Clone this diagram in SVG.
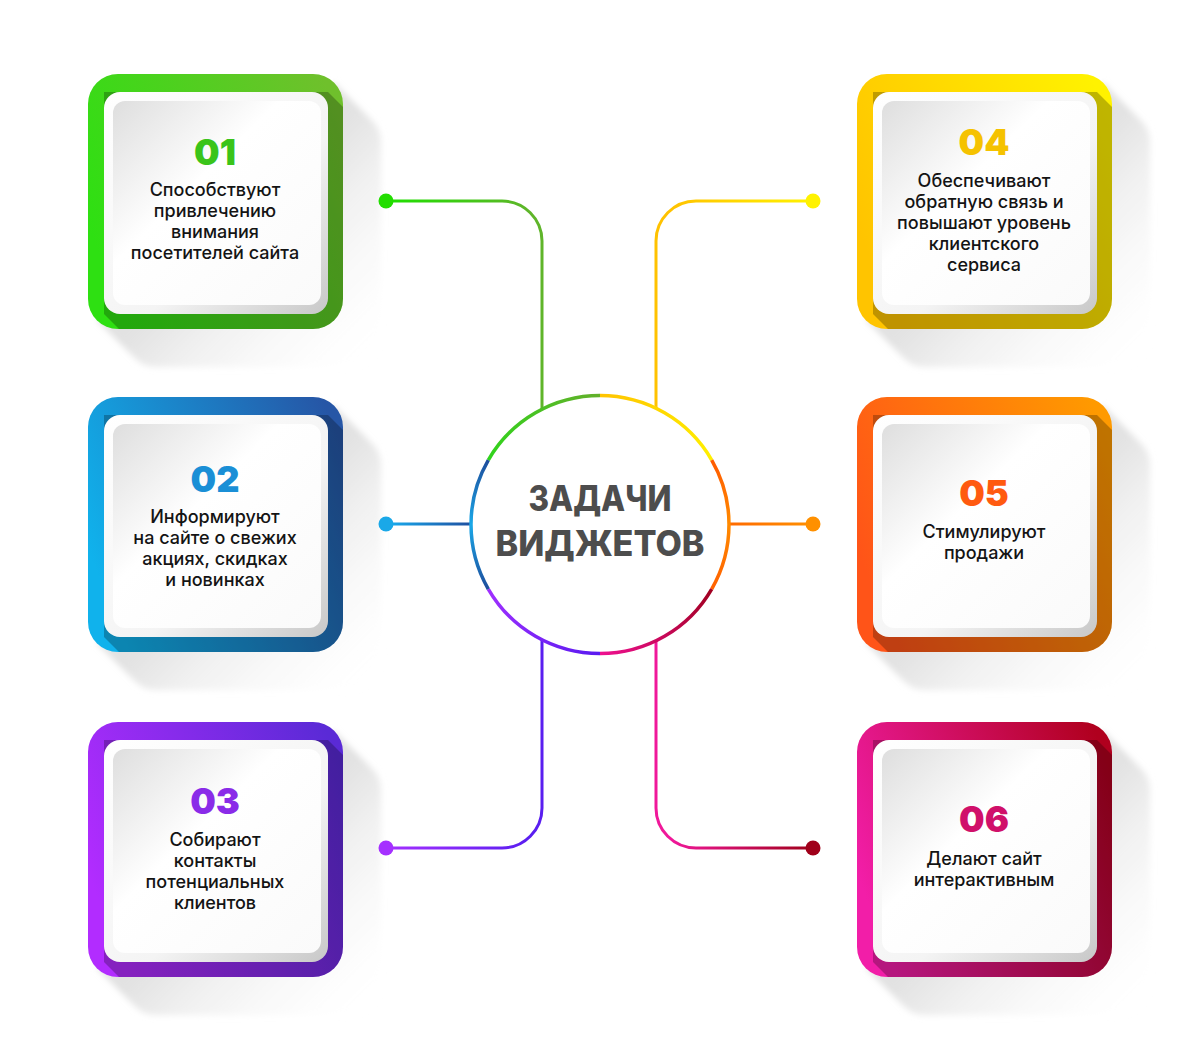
<svg xmlns="http://www.w3.org/2000/svg" width="1200" height="1050" viewBox="0 0 1200 1050">
<style>
.num{font-family:Inter,"Open Sans","DejaVu Sans",sans-serif;font-weight:900;font-size:36px;text-anchor:middle}
.txt{font-family:Inter,"Open Sans","DejaVu Sans",sans-serif;font-weight:500;font-size:18px;fill:#141414;text-anchor:middle}
.title{font-family:Inter,"Open Sans","DejaVu Sans",sans-serif;font-weight:800;font-size:35px;fill:#4d4d4d;text-anchor:middle}
.ln{fill:none;stroke-width:3;stroke-linecap:round}
.arc{fill:none;stroke-width:3.5}
</style>
<defs>
<clipPath id="frameClip"><rect x="0" y="0" width="255" height="255" rx="30"/></clipPath>
<filter id="soft" x="-20%" y="-20%" width="140%" height="140%"><feGaussianBlur stdDeviation="3"/></filter>
<linearGradient id="bgShadow" x1="0" y1="0" x2="1" y2="1">
<stop offset="0.5" stop-color="#e2e2e2"/><stop offset="1" stop-color="#ffffff" stop-opacity="0"/>
</linearGradient>
<linearGradient id="cardG" x1="0" y1="0" x2="1" y2="1">
<stop offset="0" stop-color="#ffffff"/><stop offset="0.6" stop-color="#f4f4f4"/><stop offset="1" stop-color="#c8c8c8"/>
</linearGradient>
<linearGradient id="panelG" x1="0" y1="0" x2="1" y2="1">
<stop offset="0" stop-color="#dedede"/><stop offset="0.4" stop-color="#ffffff"/><stop offset="1" stop-color="#fafafa"/>
</linearGradient>
<linearGradient id="f1" x1="0" y1="0.6" x2="1" y2="0.2"><stop offset="0" stop-color="#2ee012"/><stop offset="1" stop-color="#6fc02c"/></linearGradient>
<linearGradient id="f2" x1="0" y1="0.6" x2="1" y2="0.2"><stop offset="0" stop-color="#10b2ec"/><stop offset="1" stop-color="#2656a6"/></linearGradient>
<linearGradient id="f3" x1="0" y1="0.6" x2="1" y2="0.2"><stop offset="0" stop-color="#b22cff"/><stop offset="1" stop-color="#5a2ad6"/></linearGradient>
<linearGradient id="f4" x1="0" y1="0.6" x2="1" y2="0.2"><stop offset="0" stop-color="#ffc400"/><stop offset="1" stop-color="#fff200"/></linearGradient>
<linearGradient id="f5" x1="0" y1="0.6" x2="1" y2="0.2"><stop offset="0" stop-color="#ff5418"/><stop offset="1" stop-color="#ff9a00"/></linearGradient>
<linearGradient id="f6" x1="0" y1="0.6" x2="1" y2="0.2"><stop offset="0" stop-color="#f21ea8"/><stop offset="1" stop-color="#b0001e"/></linearGradient>
<linearGradient id="c1" gradientUnits="userSpaceOnUse" x1="386" y1="0" x2="530" y2="0"><stop offset="0" stop-color="#1ee000"/><stop offset="1" stop-color="#5fb52a"/></linearGradient>
<linearGradient id="c2" gradientUnits="userSpaceOnUse" x1="386" y1="0" x2="471" y2="0"><stop offset="0" stop-color="#18aef0"/><stop offset="1" stop-color="#1e4fa0"/></linearGradient>
<linearGradient id="c3" gradientUnits="userSpaceOnUse" x1="386" y1="0" x2="530" y2="0"><stop offset="0" stop-color="#a530ff"/><stop offset="1" stop-color="#5a1ef0"/></linearGradient>
<linearGradient id="c4" gradientUnits="userSpaceOnUse" x1="813" y1="0" x2="670" y2="0"><stop offset="0" stop-color="#fff200"/><stop offset="1" stop-color="#ffc200"/></linearGradient>
<linearGradient id="c5" gradientUnits="userSpaceOnUse" x1="729" y1="0" x2="813" y2="0"><stop offset="0" stop-color="#ff6a00"/><stop offset="1" stop-color="#ff9000"/></linearGradient>
<linearGradient id="c6" gradientUnits="userSpaceOnUse" x1="670" y1="0" x2="813" y2="0"><stop offset="0" stop-color="#f0189a"/><stop offset="1" stop-color="#a0001a"/></linearGradient>
<linearGradient id="a1" gradientUnits="userSpaceOnUse" x1="488" y1="460" x2="600" y2="396"><stop offset="0" stop-color="#30d41c"/><stop offset="1" stop-color="#62b02a"/></linearGradient>
<linearGradient id="a2" gradientUnits="userSpaceOnUse" x1="600" y1="396" x2="712" y2="460"><stop offset="0" stop-color="#ffc400"/><stop offset="1" stop-color="#fff000"/></linearGradient>
<linearGradient id="a3" gradientUnits="userSpaceOnUse" x1="712" y1="460" x2="712" y2="589"><stop offset="0" stop-color="#ff5a00"/><stop offset="0.5" stop-color="#ff8a00"/><stop offset="1" stop-color="#ff6000"/></linearGradient>
<linearGradient id="a4" gradientUnits="userSpaceOnUse" x1="712" y1="589" x2="600" y2="653"><stop offset="0" stop-color="#a00020"/><stop offset="1" stop-color="#ee1090"/></linearGradient>
<linearGradient id="a5" gradientUnits="userSpaceOnUse" x1="600" y1="653" x2="488" y2="589"><stop offset="0" stop-color="#5a1af0"/><stop offset="1" stop-color="#a030ff"/></linearGradient>
<linearGradient id="a6" gradientUnits="userSpaceOnUse" x1="488" y1="589" x2="488" y2="460"><stop offset="0" stop-color="#1d4d9c"/><stop offset="0.5" stop-color="#1aa8e8"/><stop offset="1" stop-color="#1d4d9c"/></linearGradient>
<path id="longShadow" d="M246.2,8.8 L284.2,46.8 A30,30 0 0 1 293,68 V263 A30,30 0 0 1 263,293 H68 A30,30 0 0 1 46.8,284.2 L8.8,246.2 Z"/>
</defs>
<rect width="1200" height="1050" fill="#ffffff"/>

<g id="box1" transform="translate(88,74)">
<use href="#longShadow" fill="url(#bgShadow)" filter="url(#soft)"/>
<rect x="0" y="0" width="255" height="255" rx="30" fill="url(#f1)"/>
<polygon clip-path="url(#frameClip)" points="16,18 240,18 320,98 320,320 96,320 16,240" fill="#000" opacity="0.25"/>
<rect x="16" y="18" width="224" height="222" rx="16" fill="url(#cardG)"/>
<rect x="25" y="27" width="208" height="204" rx="12" fill="url(#panelG)"/>
<text class="num" x="127" y="91" fill="#3ac41a">01</text>
<text class="txt" x="127" y="122">Способствуют</text>
<text class="txt" x="127" y="143">привлечению</text>
<text class="txt" x="127" y="164">внимания</text>
<text class="txt" x="127" y="185">посетителей сайта</text>
</g>

<g id="box2" transform="translate(88,397)">
<use href="#longShadow" fill="url(#bgShadow)" filter="url(#soft)"/>
<rect x="0" y="0" width="255" height="255" rx="30" fill="url(#f2)"/>
<polygon clip-path="url(#frameClip)" points="16,18 240,18 320,98 320,320 96,320 16,240" fill="#000" opacity="0.25"/>
<rect x="16" y="18" width="224" height="222" rx="16" fill="url(#cardG)"/>
<rect x="25" y="27" width="208" height="204" rx="12" fill="url(#panelG)"/>
<text class="num" x="127" y="95" fill="#1a8fd6">02</text>
<text class="txt" x="127" y="126">Информируют</text>
<text class="txt" x="127" y="147">на сайте о свежих</text>
<text class="txt" x="127" y="168">акциях, скидках</text>
<text class="txt" x="127" y="189">и новинках</text>
</g>

<g id="box3" transform="translate(88,722)">
<use href="#longShadow" fill="url(#bgShadow)" filter="url(#soft)"/>
<rect x="0" y="0" width="255" height="255" rx="30" fill="url(#f3)"/>
<polygon clip-path="url(#frameClip)" points="16,18 240,18 320,98 320,320 96,320 16,240" fill="#000" opacity="0.25"/>
<rect x="16" y="18" width="224" height="222" rx="16" fill="url(#cardG)"/>
<rect x="25" y="27" width="208" height="204" rx="12" fill="url(#panelG)"/>
<text class="num" x="127" y="92" fill="#8a2be8">03</text>
<text class="txt" x="127" y="124">Собирают</text>
<text class="txt" x="127" y="145">контакты</text>
<text class="txt" x="127" y="166">потенциальных</text>
<text class="txt" x="127" y="187">клиентов</text>
</g>

<g id="box4" transform="translate(857,74)">
<use href="#longShadow" fill="url(#bgShadow)" filter="url(#soft)"/>
<rect x="0" y="0" width="255" height="255" rx="30" fill="url(#f4)"/>
<polygon clip-path="url(#frameClip)" points="16,18 240,18 320,98 320,320 96,320 16,240" fill="#000" opacity="0.25"/>
<rect x="16" y="18" width="224" height="222" rx="16" fill="url(#cardG)"/>
<rect x="25" y="27" width="208" height="204" rx="12" fill="url(#panelG)"/>
<text class="num" x="127" y="81" fill="#f5c200">04</text>
<text class="txt" x="127" y="113">Обеспечивают</text>
<text class="txt" x="127" y="134">обратную связь и</text>
<text class="txt" x="127" y="155">повышают уровень</text>
<text class="txt" x="127" y="176">клиентского</text>
<text class="txt" x="127" y="197">сервиса</text>
</g>

<g id="box5" transform="translate(857,397)">
<use href="#longShadow" fill="url(#bgShadow)" filter="url(#soft)"/>
<rect x="0" y="0" width="255" height="255" rx="30" fill="url(#f5)"/>
<polygon clip-path="url(#frameClip)" points="16,18 240,18 320,98 320,320 96,320 16,240" fill="#000" opacity="0.25"/>
<rect x="16" y="18" width="224" height="222" rx="16" fill="url(#cardG)"/>
<rect x="25" y="27" width="208" height="204" rx="12" fill="url(#panelG)"/>
<text class="num" x="127" y="109" fill="#ff5a10">05</text>
<text class="txt" x="127" y="141">Стимулируют</text>
<text class="txt" x="127" y="162">продажи</text>
</g>

<g id="box6" transform="translate(857,722)">
<use href="#longShadow" fill="url(#bgShadow)" filter="url(#soft)"/>
<rect x="0" y="0" width="255" height="255" rx="30" fill="url(#f6)"/>
<polygon clip-path="url(#frameClip)" points="16,18 240,18 320,98 320,320 96,320 16,240" fill="#000" opacity="0.25"/>
<rect x="16" y="18" width="224" height="222" rx="16" fill="url(#cardG)"/>
<rect x="25" y="27" width="208" height="204" rx="12" fill="url(#panelG)"/>
<text class="num" x="127" y="110" fill="#d0106a">06</text>
<text class="txt" x="127" y="143">Делают сайт</text>
<text class="txt" x="127" y="164">интерактивным</text>
</g>

<g id="connectors">
<path class="ln" stroke="url(#c1)" d="M386,201 H502 A40,40 0 0 1 542,241 V410"/>
<circle cx="386" cy="201" r="7.5" fill="#22dd00"/>
<path class="ln" stroke="url(#c4)" d="M813,201 H696 A40,40 0 0 0 656,241 V410"/>
<circle cx="813" cy="201" r="7.5" fill="#fff200"/>
<path class="ln" stroke="url(#c2)" d="M386,524 H472"/>
<circle cx="386" cy="524" r="7.5" fill="#1aa8e8"/>
<path class="ln" stroke="url(#c5)" d="M728,524 H813"/>
<circle cx="813" cy="524" r="7.5" fill="#ff9000"/>
<path class="ln" stroke="url(#c3)" d="M386,848 H502 A40,40 0 0 0 542,808 V639"/>
<circle cx="386" cy="848" r="7.5" fill="#a530ff"/>
<path class="ln" stroke="url(#c6)" d="M813,848 H696 A40,40 0 0 1 656,808 V639"/>
<circle cx="813" cy="848" r="7.5" fill="#a0001a"/>
</g>

<g id="center">
<circle cx="600" cy="524.5" r="129" fill="#ffffff"/>
<path class="arc" stroke="url(#a1)" d="M488.3,460 A129,129 0 0 1 600,395.5"/>
<path class="arc" stroke="url(#a2)" d="M600,395.5 A129,129 0 0 1 711.7,460"/>
<path class="arc" stroke="url(#a3)" d="M711.7,460 A129,129 0 0 1 711.7,589"/>
<path class="arc" stroke="url(#a4)" d="M711.7,589 A129,129 0 0 1 600,653.5"/>
<path class="arc" stroke="url(#a5)" d="M600,653.5 A129,129 0 0 1 488.3,589"/>
<path class="arc" stroke="url(#a6)" d="M488.3,589 A129,129 0 0 1 488.3,460"/>
<text class="title" x="600" y="511" textLength="143" lengthAdjust="spacingAndGlyphs">ЗАДАЧИ</text>
<text class="title" x="600" y="556" textLength="209" lengthAdjust="spacingAndGlyphs">ВИДЖЕТОВ</text>
</g>
</svg>
